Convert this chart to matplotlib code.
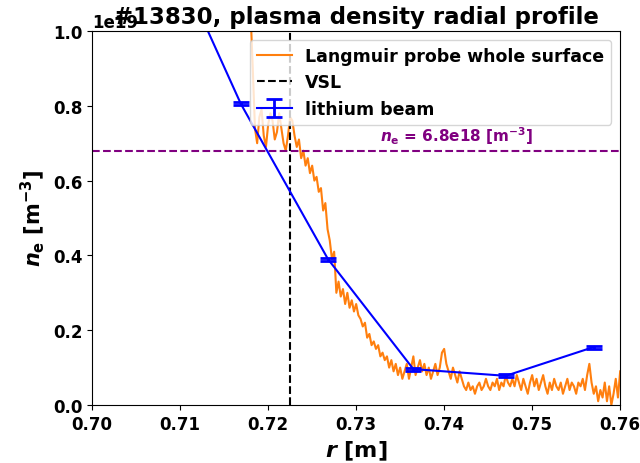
import numpy as np
import matplotlib
matplotlib.use('Agg')
import matplotlib.pyplot as plt

plt.rcParams['font.weight'] = 'bold'
plt.rcParams['axes.labelweight'] = 'bold'
plt.rcParams['axes.titleweight'] = 'bold'
plt.rcParams['mathtext.fontset'] = 'custom'
plt.rcParams['mathtext.it'] = 'DejaVu Sans:italic:bold'
plt.rcParams['mathtext.rm'] = 'DejaVu Sans:bold'
plt.rcParams['mathtext.bf'] = 'DejaVu Sans:bold'

# Langmuir probe density [1e19 m^-3], sampled every 0.25 mm from r = 0.718 m to 0.760 m
n_lp = [
    1.05, 0.90, 0.74, 0.70, 0.77, 0.79, 0.72, 0.69, 0.75, 0.78,
    0.76, 0.71, 0.73, 0.78, 0.74, 0.70, 0.68, 0.72, 0.77, 0.76,
    0.72, 0.69, 0.71, 0.66, 0.68, 0.64, 0.66, 0.62, 0.64, 0.60,
    0.61, 0.57, 0.58, 0.52, 0.54, 0.47, 0.44, 0.39, 0.41, 0.30,
    0.33, 0.29, 0.31, 0.27, 0.30, 0.26, 0.28, 0.25, 0.27, 0.24,
    0.23, 0.21, 0.22, 0.18, 0.19, 0.16, 0.17, 0.15, 0.16, 0.13,
    0.14, 0.12, 0.13, 0.10, 0.12, 0.09, 0.11, 0.08, 0.10, 0.07,
    0.09, 0.11, 0.07, 0.10, 0.13, 0.08, 0.10, 0.12, 0.09, 0.11,
    0.08, 0.10, 0.07, 0.09, 0.11, 0.08, 0.10, 0.14, 0.15, 0.11,
    0.09, 0.07, 0.10, 0.08, 0.06, 0.09, 0.07, 0.05, 0.04, 0.06,
    0.04, 0.05, 0.03, 0.05, 0.06, 0.04, 0.05, 0.07, 0.05, 0.04,
    0.06, 0.05, 0.07, 0.04, 0.06, 0.05, 0.08, 0.06, 0.05, 0.07,
    0.05, 0.08, 0.06, 0.04, 0.07, 0.05, 0.03, 0.06, 0.08, 0.05,
    0.07, 0.04, 0.06, 0.08, 0.05, 0.03, 0.06, 0.04, 0.07, 0.05,
    0.04, 0.06, 0.03, 0.05, 0.07, 0.04, 0.06, 0.05, 0.03, 0.06,
    0.05, 0.07, 0.04, 0.08, 0.11, 0.06, 0.03, 0.05, 0.01, 0.04,
    0.02, 0.06, 0.01, 0.05, 0.00, 0.03, 0.07, 0.02, 0.09,
]
r_lp = np.linspace(0.718, 0.760, len(n_lp))

# lithium beam profile
r_li = [0.7068, 0.7169, 0.7268, 0.7365, 0.7470, 0.7570]
n_li = [1.33, 0.805, 0.39, 0.096, 0.078, 0.155]
n_li_err = [0.004, 0.004, 0.004, 0.004, 0.004, 0.004]

r_vsl = 0.7225
n_level = 0.68

fig = plt.figure(figsize=(6.4, 4.64), dpi=100)
ax = fig.add_axes([0.144, 0.125, 0.825, 0.806])

scale = 1e19
ax.plot(r_lp, np.array(n_lp) * scale, color='tab:orange', lw=1.5,
        label='Langmuir probe whole surface')
ax.axvline(r_vsl, color='black', ls='--', lw=1.5, label='VSL')
ax.errorbar(r_li, np.array(n_li) * scale, yerr=np.array(n_li_err) * scale,
            color='blue', lw=1.5, capsize=6, capthick=2, elinewidth=2,
            label='lithium beam')
ax.axhline(n_level * scale, color='purple', ls='--', lw=1.5)
ax.text(0.7414, (n_level + 0.012) * scale,
        r'$n_\mathrm{e}$ = 6.8e18 [m$^{-3}$]', color='purple',
        fontsize=11, ha='center', va='bottom')

ax.set_xlim(0.70, 0.76)
ax.set_ylim(0, 1.0e19)
ax.tick_params(labelsize=12)
ax.yaxis.get_offset_text().set_fontsize(12)
ax.set_xlabel(r'$r$ [m]', fontsize=16)
ax.set_ylabel(r'$n_\mathrm{e}$ [m$^{-3}$]', fontsize=15)
# fixed y keeps the title from being pushed up above the offset text
ax.set_title('#13830, plasma density radial profile', fontsize=16.5, y=1.0, pad=6)
ax.legend(loc='upper right', fontsize=12.5)

fig.savefig('out.png', dpi=100)
